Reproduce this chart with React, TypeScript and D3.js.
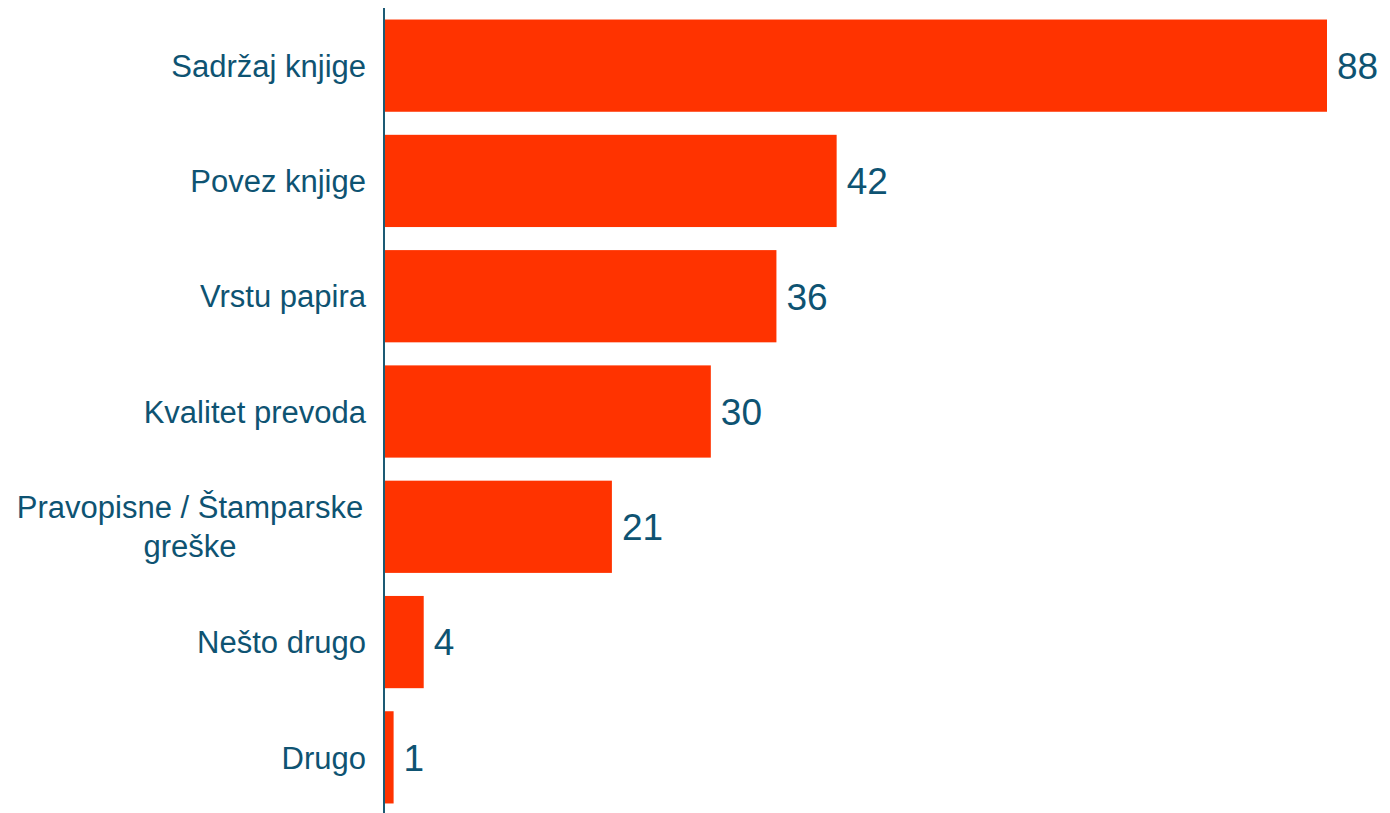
import React from "react";
import * as d3 from "d3";

const categories: string[][] = [
  ["Sadržaj knjige"],
  ["Povez knjige"],
  ["Vrstu papira"],
  ["Kvalitet prevoda"],
  ["Pravopisne / Štamparske", "greške"],
  ["Nešto drugo"],
  ["Drugo"],
];
const values: number[] = [87.6, 42.0, 36.4, 30.3, 21.1, 3.6, 0.8];

const W = 1390;
const H = 813;
const AXIS_X = 384;
const BAR_COLOR = "#ff3300";
const TEXT_COLOR = "#0e5372";
const FONT = "'Liberation Sans', Arial, sans-serif";

export default function App() {
  const keys = categories.map((c) => c.join(" "));
  const y = d3.scaleBand<string>().domain(keys).range([8, 815]).paddingInner(0.2).paddingOuter(0.1);
  const x = d3.scaleLinear().domain([0, 87.6]).range([AXIS_X + 1, 1327]);
  const fmt = d3.format(".0f");
  const catSize = 31;
  const lineH = 39;

  return (
    <svg
      width={W}
      height={H}
      style={{ position: "absolute", left: 0, top: 0, background: "#fff" }}
      fontFamily={FONT}
    >
      {values.map((v, i) => {
        const k = keys[i];
        const y0 = y(k)!;
        const bw = y.bandwidth();
        const cy = y0 + bw / 2;
        const lines = categories[i];
        return (
          <g key={k}>
            <rect x={x(0)} y={y0} width={x(v) - x(0)} height={bw} fill={BAR_COLOR} />
            <text x={x(v) + 10} y={cy} dy="0.36em" fontSize={37} fill={TEXT_COLOR}>
              {fmt(v)}
            </text>
            {lines.length === 1 ? (
              <text x={366} y={cy} dy="0.36em" textAnchor="end" fontSize={catSize} fill={TEXT_COLOR}>
                {lines[0]}
              </text>
            ) : (
              <text x={190} y={cy - ((lines.length - 1) * lineH) / 2} textAnchor="middle" fontSize={catSize} fill={TEXT_COLOR}>
                {lines.map((l, j) => (
                  <tspan key={j} x={190} dy={j === 0 ? "0.36em" : lineH}>
                    {l}
                  </tspan>
                ))}
              </text>
            )}
          </g>
        );
      })}
      <line x1={AXIS_X} x2={AXIS_X} y1={8} y2={813} stroke="#1d5a74" strokeWidth={2} />
    </svg>
  );
}
